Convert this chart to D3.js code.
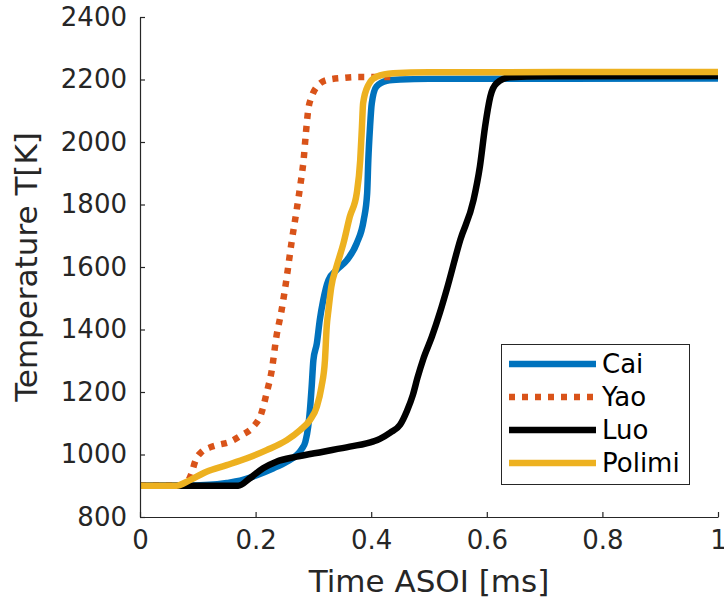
<!DOCTYPE html>
<html>
<head>
<meta charset="utf-8">
<script src="https://cdn.jsdelivr.net/npm/d3@7"></script>
<style>
  html, body { margin: 0; padding: 0; background: #fff; }
  svg { display: block; font-family: "DejaVu Sans", sans-serif; }
</style>
</head>
<body>
<svg id="chart" width="724" height="603"></svg>
<script>
// ---- data (time in ms, temperature in K) ----
const seriesNames = ["Cai", "Yao", "Luo", "Polimi"];

const caiTime = [0, 0.07, 0.12, 0.15, 0.173, 0.202, 0.231, 0.254, 0.271, 0.280, 0.286, 0.291, 0.294, 0.297, 0.300, 0.306, 0.311, 0.317, 0.326, 0.340, 0.358, 0.375, 0.387, 0.393, 0.395, 0.398, 0.401, 0.409, 0.427, 0.45, 0.5, 1.0];
const caiTemp = [900, 900, 903, 909, 916, 934, 956, 977, 998, 1018, 1040, 1089, 1142, 1217, 1302, 1356, 1430, 1494, 1558, 1590, 1622, 1676, 1750, 1836, 1942, 2049, 2124, 2177, 2196, 2200, 2202, 2203];

const yaoTime = [0, 0.075, 0.087, 0.097, 0.107, 0.12, 0.133, 0.156, 0.176, 0.196, 0.210, 0.219, 0.228, 0.236, 0.245, 0.254, 0.262, 0.271, 0.277, 0.283, 0.287, 0.291, 0.297, 0.306, 0.323, 0.35, 0.375, 0.42, 0.44];
const yaoTemp = [900, 900, 929, 985, 1009, 1022, 1030, 1041, 1062, 1089, 1132, 1196, 1270, 1377, 1462, 1569, 1676, 1782, 1857, 1942, 2028, 2102, 2145, 2177, 2198, 2205, 2208, 2208, 2208];

const luoTime = [0, 0.17, 0.19, 0.213, 0.236, 0.271, 0.317, 0.363, 0.404, 0.415, 0.433, 0.450, 0.462, 0.472, 0.480, 0.490, 0.505, 0.519, 0.531, 0.554, 0.577, 0.588, 0.597, 0.606, 0.617, 0.640, 0.7, 1.0];
const luoTemp = [900, 900, 924, 956, 977, 993, 1009, 1025, 1042, 1050, 1070, 1095, 1140, 1190, 1245, 1305, 1377, 1455, 1530, 1686, 1814, 1921, 2049, 2145, 2188, 2207, 2210, 2211];

const polimiTime = [0, 0.063, 0.0865, 0.115, 0.150, 0.185, 0.219, 0.254, 0.277, 0.294, 0.306, 0.314, 0.320, 0.323, 0.326, 0.331, 0.340, 0.352, 0.363, 0.375, 0.381, 0.384, 0.386, 0.395, 0.409, 0.438, 0.5, 1.0];
const polimiTemp = [900, 900, 918, 945, 966, 988, 1014, 1046, 1078, 1110, 1153, 1217, 1302, 1409, 1462, 1537, 1601, 1676, 1761, 1836, 1942, 2049, 2124, 2182, 2209, 2220, 2223, 2224];

const xTicks = [0, 0.2, 0.4, 0.6, 0.8, 1];
const xTickLabels = ["0", "0.2", "0.4", "0.6", "0.8", "1"];
const yTicks = [800, 1000, 1200, 1400, 1600, 1800, 2000, 2200, 2400];

const xTitle = "Time ASOI [ms]";
const yTitle = "Temperature T[K]";

// ---- styling ----
const colors = { Cai: "#0072BD", Yao: "#D95319", Luo: "#000000", Polimi: "#EDB120" };
const dashes = { Cai: null, Yao: "6,7", Luo: null, Polimi: null };
const axisColor = "#262626";

const svg = d3.select("#chart");
const W = 724, H = 603;
const m = { left: 140, right: 6, top: 17, bottom: 86 };
const x = d3.scaleLinear().domain([0, 1]).range([m.left, W - m.right]);
const y = d3.scaleLinear().domain([800, 2400]).range([H - m.bottom, m.top]);

const series = [
  { name: "Cai", t: caiTime, v: caiTemp },
  { name: "Yao", t: yaoTime, v: yaoTemp },
  { name: "Luo", t: luoTime, v: luoTemp },
  { name: "Polimi", t: polimiTime, v: polimiTemp }
];

svg.append("defs").append("clipPath").attr("id", "clip")
  .append("rect").attr("x", m.left).attr("y", m.top - 4)
  .attr("width", W - m.left - m.right + 4).attr("height", H - m.top - m.bottom + 4);

const line = d3.line().x(d => x(d[0])).y(d => y(d[1])).curve(d3.curveMonotoneX);

const g = svg.append("g").attr("clip-path", "url(#clip)");
series.forEach(s => {
  const pts = s.t.map((t, i) => [t, s.v[i]]);
  g.append("path").datum(pts)
    .attr("d", line)
    .attr("fill", "none")
    .attr("stroke", colors[s.name])
    .attr("stroke-width", 6.5)
    .attr("stroke-linejoin", "round")
    .attr("stroke-linecap", "butt")
    .attr("stroke-dasharray", dashes[s.name]);
});

// ---- axes ----
const xAxis = d3.axisBottom(x).tickValues(xTicks)
  .tickFormat((d, i) => xTickLabels[i]).tickSizeInner(-5).tickSizeOuter(0).tickPadding(14);
const yAxis = d3.axisLeft(y).tickValues(yTicks)
  .tickFormat(d3.format("d")).tickSizeInner(-5).tickSizeOuter(0).tickPadding(13);

const gx = svg.append("g").attr("transform", `translate(0,${H - m.bottom})`).call(xAxis);
const gy = svg.append("g").attr("transform", `translate(${m.left},0)`).call(yAxis);
[gx, gy].forEach(a => {
  a.select(".domain").attr("stroke", axisColor).attr("stroke-width", 1.2);
  a.selectAll(".tick line").attr("stroke", axisColor).attr("stroke-width", 1.2);
  a.selectAll(".tick text").attr("fill", axisColor)
    .style("font-family", "DejaVu Sans, sans-serif").style("font-size", "26px");
});
gx.selectAll(".tick text").attr("dy", "0.71em");

svg.append("text")
  .attr("x", (x(0) + x(1)) / 2).attr("y", 592)
  .attr("text-anchor", "middle").attr("fill", axisColor)
  .style("font-size", "31px").text(xTitle);

svg.append("text")
  .attr("transform", `translate(37,${(y(800) + y(2400)) / 2}) rotate(-90)`)
  .attr("text-anchor", "middle").attr("fill", axisColor)
  .style("font-size", "31px").text(yTitle);

// ---- legend ----
const lg = svg.append("g");
lg.append("rect").attr("x", 501.5).attr("y", 344.5).attr("width", 188).attr("height", 140)
  .attr("fill", "#fff").attr("stroke", axisColor).attr("stroke-width", 1);
const rowY = [364, 397, 430, 463];
series.forEach((s, i) => {
  lg.append("line").attr("x1", 509).attr("x2", 596).attr("y1", rowY[i]).attr("y2", rowY[i])
    .attr("stroke", colors[s.name]).attr("stroke-width", 6.5)
    .attr("stroke-dasharray", dashes[s.name]);
  lg.append("text").attr("x", 602).attr("y", rowY[i]).attr("dy", "0.36em")
    .attr("fill", "#000").style("font-size", "26px").text(s.name);
});
</script>
</body>
</html>
